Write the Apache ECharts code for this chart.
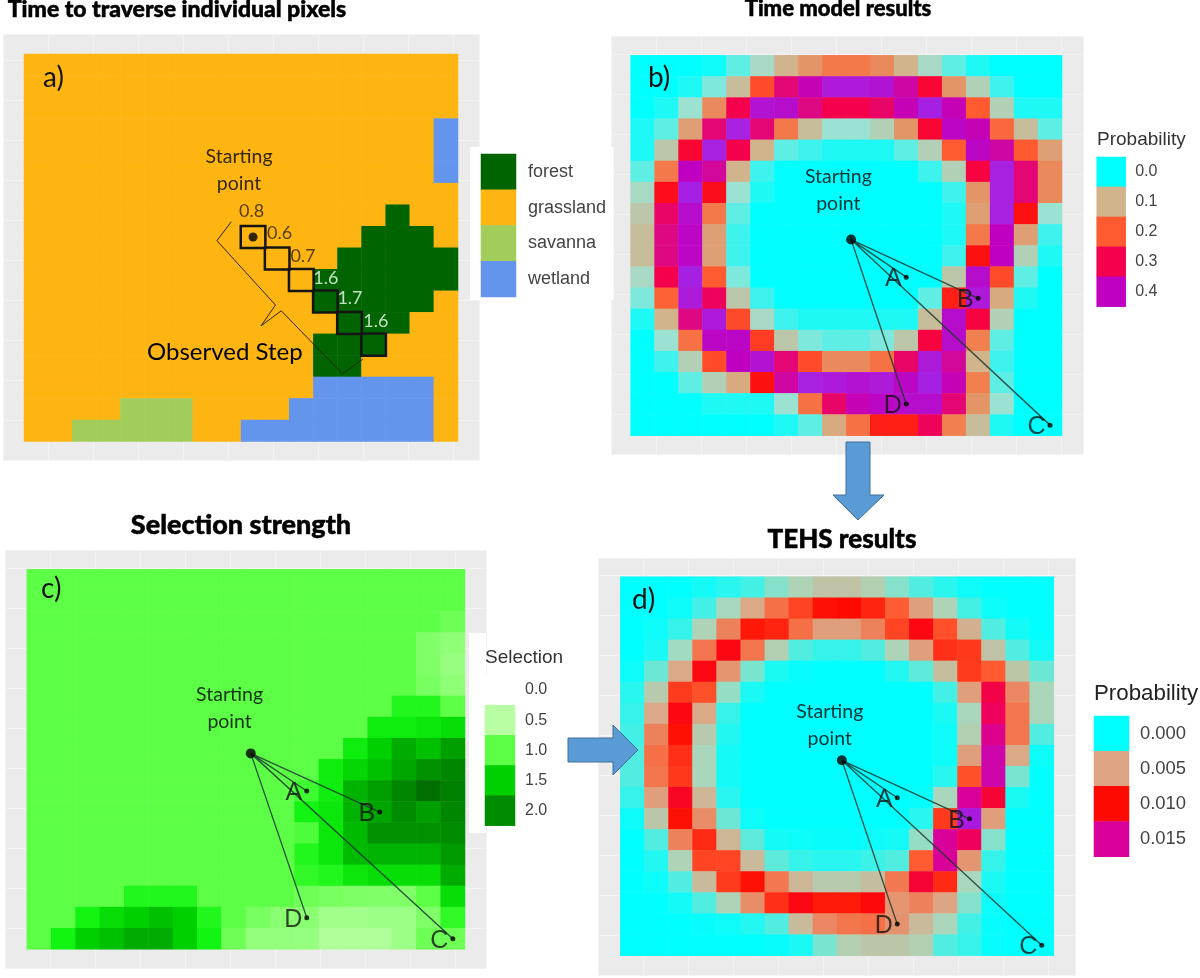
<!DOCTYPE html>
<html>
<head>
<meta charset="utf-8">
<style>html,body{margin:0;padding:0;background:#fff}#chart{width:1200px;height:978px}</style>
<script src="https://cdn.jsdelivr.net/npm/echarts@6/dist/echarts.min.js"></script>
</head>
<body>
<div id="chart"></div>
<script>
// ---------- categories / ticks ----------
const cells = ['1','2','3','4','5','6','7','8','9','10','11','12','13','14','15','16','17','18'];
const landCoverNames = ['forest','grassland','savanna','wetland'];
const probTicksB = [0.0,0.1,0.2,0.3,0.4];
const selectionTicks = [0.0,0.5,1.0,1.5,2.0];
const probTicksD = [0.000,0.005,0.010,0.015];

// ---------- a) land cover (0 forest, 1 grassland, 2 savanna, 3 wetland) ----------
const landCover = [
[1,1,1,1,1,1,1,1,1,1,1,1,1,1,1,1,1,1],
[1,1,1,1,1,1,1,1,1,1,1,1,1,1,1,1,1,1],
[1,1,1,1,1,1,1,1,1,1,1,1,1,1,1,1,1,1],
[1,1,1,1,1,1,1,1,1,1,1,1,1,1,1,1,1,3],
[1,1,1,1,1,1,1,1,1,1,1,1,1,1,1,1,1,3],
[1,1,1,1,1,1,1,1,1,1,1,1,1,1,1,1,1,3],
[1,1,1,1,1,1,1,1,1,1,1,1,1,1,1,1,1,1],
[1,1,1,1,1,1,1,1,1,1,1,1,1,1,1,0,1,1],
[1,1,1,1,1,1,1,1,1,1,1,1,1,1,0,0,0,1],
[1,1,1,1,1,1,1,1,1,1,1,1,1,0,0,0,0,0],
[1,1,1,1,1,1,1,1,1,1,1,1,0,0,0,0,0,0],
[1,1,1,1,1,1,1,1,1,1,1,1,0,0,0,0,0,1],
[1,1,1,1,1,1,1,1,1,1,1,1,1,0,0,0,1,1],
[1,1,1,1,1,1,1,1,1,1,1,1,0,0,0,1,1,1],
[1,1,1,1,1,1,1,1,1,1,1,1,0,0,1,1,1,1],
[1,1,1,1,1,1,1,1,1,1,1,1,3,3,3,3,3,1],
[1,1,1,1,2,2,2,1,1,1,1,3,3,3,3,3,3,1],
[1,1,2,2,2,2,2,1,1,3,3,3,3,3,3,3,3,1]
];
const stepCols = [9,10,11,12,13,14];
const stepRows = [8,9,10,11,12,13];
const stepTimes = ['0.8','0.6','0.7','1.6','1.7','1.6'];
const stepTimeX = [9.44,10.6,11.57,12.52,13.52,14.59];
const stepTimeY = [7.29,8.33,9.38,10.42,11.36,12.43];
const stepTimeColors = ['#2f2200','#2f2200','#2f2200','#f2fff2','#f2fff2','#f2fff2'];
const bracketA = [[8.6,7.79],[8.0,8.67],[10.43,11.66],[9.83,12.63],[10.67,11.93],[13.21,14.86],[14.05,14.18]];

// ---------- b) time model probability ----------
const timeProb = [
[0,0,0,.005,.03,.06,.1,.13,.16,.16,.14,.1,.06,.03,.01,0,0,0],
[0,0,.01,.04,.09,.21,.33,.39,.44,.44,.43,.37,.28,.13,.07,.02,0,0],
[0,.01,.05,.14,.30,.43,.42,.34,.30,.30,.32,.39,.46,.39,.2,.07,.01,.01],
[.01,.03,.12,.33,.45,.33,.16,.09,.05,.05,.07,.13,.28,.41,.39,.18,.09,.03],
[.01,.08,.28,.45,.30,.10,.03,.02,.01,.01,.01,.03,.07,.2,.41,.37,.2,.12],
[.03,.16,.40,.36,.10,.02,0,0,0,0,0,0,.02,.07,.29,.45,.33,.14],
[.06,.26,.46,.26,.05,.01,0,0,0,0,0,0,0,.02,.13,.45,.33,.14],
[.08,.32,.42,.16,.03,0,0,0,0,0,0,0,0,.01,.12,.45,.25,.05],
[.09,.34,.41,.12,.02,0,0,0,0,0,0,0,0,.01,.16,.40,.12,.02],
[.09,.34,.41,.12,.02,0,0,0,0,0,0,0,0,.02,.25,.40,.07,.01],
[.06,.30,.46,.20,.04,0,0,0,0,0,0,0,0,.08,.42,.21,.03,0],
[.04,.19,.44,.31,.08,.02,0,0,0,0,0,0,.03,.24,.44,.11,.01,0],
[.01,.10,.34,.44,.21,.06,.02,.01,.01,.01,.01,.01,.09,.42,.29,.07,0,0],
[0,.05,.17,.41,.41,.22,.08,.04,.03,.03,.04,.08,.29,.42,.15,.03,0,0],
[0,.02,.07,.21,.40,.43,.33,.21,.14,.14,.17,.32,.44,.36,.10,.02,0,0],
[0,0,.03,.07,.11,.25,.37,.45,.44,.43,.44,.41,.46,.39,.15,.03,0,0],
[0,0,0,.01,.01,.01,.05,.17,.32,.39,.41,.42,.42,.33,.13,.05,0,0],
[0,0,0,0,0,0,.01,.03,.11,.17,.24,.24,.31,.15,.09,.01,0,0]
];

// ---------- c) selection strength ----------
const selection = [
[1,1,1,1,1,1,1,1,1,1,1,1,1,1,1,1,1,1],
[1,1,1,1,1,1,1,1,1,1,1,1,1,1,1,1,1,1],
[1,1,1,1,1,1,1,1,1,1,1,1,1,1,1,1,1,.9],
[1,1,1,1,1,1,1,1,1,1,1,1,1,1,1,1,.8,.72],
[1,1,1,1,1,1,1,1,1,1,1,1,1,1,1,1,.8,.68],
[1,1,1,1,1,1,1,1,1,1,1,1,1,1,1,1,.85,.72],
[1,1,1,1,1,1,1,1,1,1,1,1,1,1,1,1.2,1.2,1.0],
[1,1,1,1,1,1,1,1,1,1,1,1,1,1,1.3,1.3,1.35,1.4],
[1,1,1,1,1,1,1,1,1,1,1,1,1,1.3,1.5,1.75,1.6,1.85],
[1,1,1,1,1,1,1,1,1,1,1,1,1.3,1.45,1.6,1.8,1.95,2.05],
[1,1,1,1,1,1,1,1,1,1,1,1.1,1.3,1.7,1.85,2.05,2.25,2.1],
[1,1,1,1,1,1,1,1,1,1,1,1.25,1.35,1.7,1.8,2.0,1.85,2.05],
[1,1,1,1,1,1,1,1,1,1,1,1.05,1.35,1.65,1.95,1.95,1.95,2.0],
[1,1,1,1,1,1,1,1,1,1,1,1.2,1.35,1.65,1.7,1.7,1.7,1.9],
[1,1,1,1,1,1,1,1,1,1,1,1.15,1.2,1.35,1.4,1.4,1.4,1.75],
[1,1,1,1,1.2,1.2,1.2,1,1,1,1,.9,.85,.82,.8,.8,1.0,1.4],
[1,1,1.25,1.4,1.5,1.6,1.5,1.2,1,.85,.75,.75,.62,.62,.65,.65,.8,1.15],
[1,1.25,1.5,1.6,1.75,1.75,1.5,1.25,.9,.7,.7,.68,.55,.55,.55,.65,.9,.9]
];

// ---------- d) TEHS probability ----------
const tehsProb = [
[0,0,0,.0003,.0006,.001,.002,.0028,.0036,.0036,.003,.002,.0012,.0006,.0002,0,0,0],
[0,0,.0002,.001,.0025,.0048,.0068,.0082,.0098,.01,.0092,.0074,.0052,.0028,.001,.0002,0,0],
[0,.0002,.0008,.0028,.0062,.0096,.0092,.0068,.0052,.0052,.0062,.0082,.0105,.0078,.0045,.0012,.0003,0],
[0,.0004,.0024,.0066,.0105,.0066,.003,.0012,.0008,.0008,.0012,.0028,.0052,.0088,.0086,.0036,.0012,.0003],
[.0002,.0016,.0048,.0105,.0055,.0018,.0004,.0001,0,0,0,.0005,.0014,.0038,.0085,.0075,.0034,.0016],
[.0006,.0032,.0085,.0078,.0022,.0004,0,0,0,0,0,0,0,.001,.0052,.012,.006,.0026],
[.0008,.0048,.0105,.0048,.0008,0,0,0,0,0,0,0,0,.0004,.0026,.0125,.0066,.0026],
[.001,.0062,.0098,.0032,.0005,0,0,0,0,0,0,0,0,.0002,.003,.0145,.0066,.0012],
[.0012,.0068,.0088,.0026,.0003,0,0,0,0,0,0,0,0,.0002,.0052,.0155,.0048,.0002],
[.0012,.0066,.0086,.0026,.0003,0,0,0,0,0,0,0,0,.0006,.0078,.0155,.0018,0],
[.0008,.0052,.011,.0042,.0006,0,0,0,0,0,0,0,.0001,.0026,.015,.0115,.0004,0],
[.0002,.0034,.0098,.0058,.0016,.0002,0,0,0,0,0,0,.0006,.0085,.017,.0052,0,0],
[0,.0012,.0062,.009,.0042,.0014,.0003,.0002,.0001,.0001,.0002,.0003,.0022,.015,.0125,.002,0,0],
[0,.0005,.0028,.0082,.0082,.004,.0014,.0008,.0006,.0006,.0009,.0012,.0075,.015,.0055,.0008,0,0],
[0,.0002,.0012,.004,.0085,.0098,.0065,.0042,.0032,.0032,.0038,.0065,.0115,.009,.0025,.0004,0,0],
[0,0,.0003,.0012,.0028,.0058,.0088,.0105,.0095,.0095,.0103,.0055,.0062,.005,.002,.0002,0,0],
[0,0,0,.0001,.0002,.0005,.0012,.004,.006,.0066,.0068,.0056,.004,.0026,.001,.0001,0,0],
[0,0,0,0,0,0,.0001,.0004,.0018,.003,.0034,.0034,.003,.0012,.0008,.0001,0,0]
];

// ---------- observed points in cell units ----------
const startPoint = [9.2,8.72];
const startPointA = [9.5,8.5];
const targetNames = ['A','B','C','D'];
const targetX = [11.5,14.5,17.5,11.5];
const targetY = [10.5,11.5,17.5,16.5];

// ---------- colour ramps ----------
const landColors = ['#006400','#FFB511','#A2CD5A','#6495ED'];
const rampB = ['#00FFFF','#9CE2D2','#D2B48C','#F08050','#FF5A30','#FF1010','#F5004D','#D80A90','#C000C0','#A820E0','#9B20F0'];
const rampC = ['#FFFFFF','#E0FFD5','#B8FFA4','#8AFF72','#5CFF45','#12F512','#00CF00','#00AC00','#008C00','#006E00'];
const rampD = ['#00FFFF','#A8D9BE','#DDA583','#FF5A30','#FF0A00','#F0005A','#D80098','#9B20F0'];

// ---------- layout ----------
const panelA = {gray:[3,34.7,476.5,426], plot:[24,54,434,387.5], tag:'a)', tagAt:[43,64], startAt:[8.92,5.39]};
const panelB = {gray:[611,36.7,472,417.3], plot:[630.6,55.3,431.4,380.4], tag:'b)', tagAt:[648,64], startAt:[8.67,6.37]};
const panelC = {gray:[5.4,550,480.6,418], plot:[26.8,569.3,438.2,380], tag:'c)', tagAt:[41,575], startAt:[8.33,6.59]};
const panelD = {gray:[598.6,558,477,417], plot:[620.3,576.7,433.5,379], tag:'d)', tagAt:[632,586], startAt:[8.7,7.04]};

const option = {
  backgroundColor:'#fff', animation:false,
  grid:[], xAxis:[], yAxis:[], series:[], visualMap:[], title:[], graphic:[]
};
const txtFont = 'Lato';
const heatCells = m => { const o=[]; m.forEach((r,y)=>r.forEach((v,x)=>o.push([x,y,v]))); return o; };

function addAxis(list, o){ list.push(o); return list.length-1; }

function addPanel(p, matrix, mapSeries){
  // backdrop: gray panel + white major lines
  const gi0 = option.grid.length;
  option.grid.push({left:p.gray[0],top:p.gray[1],width:p.gray[2],height:p.gray[3],show:true,backgroundColor:'#EBEBEB',borderWidth:0,z:0});
  const lineStyle={color:'#F3F3F3',width:1};
  addAxis(option.xAxis,{type:'value',gridIndex:gi0,min:0,max:p.gray[2]/45,interval:1,axisLine:{show:false},axisTick:{show:false},axisLabel:{show:false},splitLine:{show:true,lineStyle}});
  addAxis(option.yAxis,{type:'value',gridIndex:gi0,min:0,max:p.gray[3]/40,interval:1,axisLine:{show:false},axisTick:{show:false},axisLabel:{show:false},splitLine:{show:true,lineStyle}});
  // plot: heat cells on category axes, overlay on value axes in cell units
  const gi = option.grid.length;
  option.grid.push({left:p.plot[0],top:p.plot[1],width:p.plot[2],height:p.plot[3],z:2});
  const hide={show:false};
  const xc=addAxis(option.xAxis,{type:'category',gridIndex:gi,data:cells,show:false,splitArea:hide});
  const yc=addAxis(option.yAxis,{type:'category',gridIndex:gi,data:cells,inverse:true,show:false,splitArea:hide});
  const xv=addAxis(option.xAxis,{type:'value',gridIndex:gi,min:0,max:18,show:false,splitLine:hide,position:'top'});
  const yv=addAxis(option.yAxis,{type:'value',gridIndex:gi,min:0,max:18,inverse:true,show:false,splitLine:hide,position:'right'});
  mapSeries.push(option.series.length);
  option.series.push({type:'heatmap',xAxisIndex:xc,yAxisIndex:yc,data:heatCells(matrix),z:2,progressive:0,emphasis:{disabled:true}});
  // panel tag
  option.title.push({text:p.tag,left:p.tagAt[0],top:p.tagAt[1],textStyle:{fontFamily:txtFont,fontSize:28,fontWeight:'normal',color:'#141414'},padding:0,z:9});
  // starting point caption
  option.series.push({type:'scatter',xAxisIndex:xv,yAxisIndex:yv,symbolSize:0,z:6,silent:true,clip:false,
    data:[p.startAt],label:{show:true,position:'inside',formatter:'Starting\npoint',fontFamily:txtFont,fontSize:19.5,lineHeight:27,color:'#000',align:'center',verticalAlign:'middle'}});
  return {xv,yv,xc,yc};
}

function addTracks(ax){
  const path=[]; targetX.forEach((x,i)=>{path.push(startPoint);path.push([x,targetY[i]]);});
  option.series.push({type:'line',xAxisIndex:ax.xv,yAxisIndex:ax.yv,data:path,showSymbol:false,symbol:'none',z:5,silent:true,lineStyle:{color:'#1d3b33',width:1.4,opacity:.85}});
  option.series.push({type:'scatter',xAxisIndex:ax.xv,yAxisIndex:ax.yv,symbolSize:5,z:6,silent:true,itemStyle:{color:'#000'},
    data:targetX.map((x,i)=>({value:[x,targetY[i]],name:targetNames[i]})),
    label:{show:true,position:'left',distance:2,offset:[0,2],formatter:'{b}',fontFamily:'Liberation Sans',fontSize:25,color:'#141414'}});
  option.series.push({type:'scatter',xAxisIndex:ax.xv,yAxisIndex:ax.yv,symbolSize:10,z:7,silent:true,itemStyle:{color:'#000'},data:[startPoint]});
}

function addLegend(rect, labels, values, mapSeries, fontSize){
  const gi=option.grid.length;
  option.grid.push({left:rect[0],top:rect[1],width:rect[2],height:rect[3],z:3});
  const x=addAxis(option.xAxis,{type:'category',gridIndex:gi,data:[''],show:false});
  const y=addAxis(option.yAxis,{type:'category',gridIndex:gi,data:labels,inverse:true,position:'right',
    axisLine:{show:false},axisTick:{show:false},splitLine:{show:false},
    axisLabel:{show:true,margin:rect[4],fontFamily:'Liberation Sans',fontSize,color:'#444'}});
  mapSeries.push(option.series.length);
  option.series.push({type:'heatmap',xAxisIndex:x,yAxisIndex:y,data:values.map((v,i)=>[0,i,v]),z:3,progressive:0,emphasis:{disabled:true}});
}

// white boxes behind legends
[[470,147,10,153],[469,633,17,200],[610.7,147,3,153]].forEach(r=>{
  option.graphic.push({type:'rect',shape:{x:r[0],y:r[1],width:r[2],height:r[3]},style:{fill:'#fff'},z:1,silent:true});
});

// ---------- panel a ----------
{
  const ms=[]; const ax=addPanel(panelA,landCover,ms);
  option.series.push({type:'heatmap',xAxisIndex:ax.xc,yAxisIndex:ax.yc,z:4,progressive:0,emphasis:{disabled:true},
    data:stepCols.map((c,i)=>[c,stepRows[i],1]),
    itemStyle:{color:'rgba(0,0,0,0)',borderColor:'#141414',borderWidth:2.5}});
  option.series.push({type:'line',xAxisIndex:ax.xv,yAxisIndex:ax.yv,data:bracketA,showSymbol:false,symbol:'none',z:5,silent:true,lineStyle:{color:'#2b2200',width:1}});
  option.series.push({type:'scatter',xAxisIndex:ax.xv,yAxisIndex:ax.yv,symbolSize:9,z:6,silent:true,itemStyle:{color:'#000'},data:[startPointA]});
  option.series.push({type:'scatter',xAxisIndex:ax.xv,yAxisIndex:ax.yv,symbolSize:0,z:6,silent:true,
    data:stepTimes.map((t,i)=>({value:[stepTimeX[i],stepTimeY[i]],name:t,label:{color:stepTimeColors[i]}})),
    label:{show:true,position:'inside',formatter:'{b}',fontFamily:txtFont,fontSize:18}});
  addLegend([481,154,35,143,12],landCoverNames,[0,1,2,3],ms,18);
  option.visualMap.push({type:'piecewise',show:false,seriesIndex:ms,dimension:2,
    pieces:landColors.map((c,i)=>({value:i,color:c}))});
  option.title.push({text:'Observed Step',left:147,top:340,textStyle:{fontFamily:txtFont,fontSize:24,fontWeight:'normal',color:'#000'},padding:0});
}
// ---------- panel b ----------
{
  const ms=[]; const ax=addPanel(panelB,timeProb,ms); addTracks(ax);
  addLegend([1096.7,157,29,149.7,9.5],probTicksB.map(v=>v.toFixed(1)),probTicksB,ms,16);
  option.visualMap.push({type:'continuous',show:false,seriesIndex:ms,dimension:2,min:0,max:.5,inRange:{color:rampB}});
  option.title.push({text:'Probability',left:1097,top:130,textStyle:{fontFamily:'Liberation Sans',fontSize:19,fontWeight:'normal',color:'#333'},padding:0});
}
// ---------- panel c ----------
{
  const ms=[]; const ax=addPanel(panelC,selection,ms); addTracks(ax);
  addLegend([485,675,30,150.7,10],selectionTicks.map(v=>v.toFixed(1)),selectionTicks,ms,16);
  option.visualMap.push({type:'continuous',show:false,seriesIndex:ms,dimension:2,min:0,max:2.25,inRange:{color:rampC}});
  option.title.push({text:'Selection',left:485,top:648,textStyle:{fontFamily:'Liberation Sans',fontSize:19,fontWeight:'normal',color:'#333'},padding:0});
}
// ---------- panel d ----------
{
  const ms=[]; const ax=addPanel(panelD,tehsProb,ms); addTracks(ax);
  addLegend([1094,716,35,140.7,11],probTicksD.map(v=>v.toFixed(3)),probTicksD,ms,18.4);
  option.visualMap.push({type:'continuous',show:false,seriesIndex:ms,dimension:2,min:0,max:.0175,inRange:{color:rampD}});
  option.title.push({text:'Probability',left:1094,top:683,textStyle:{fontFamily:'Liberation Sans',fontSize:22.3,fontWeight:'normal',color:'#222'},padding:0});
}

// headers
const headers = [['Time to traverse individual pixels',177,-2,23],['Time model results',838,-2,22],['Selection strength',241,512,27],['TEHS results',842,527,26]];
headers.forEach(h=>option.title.push({text:h[0],left:h[1],top:h[2],textAlign:'center',padding:0,
  textStyle:{fontFamily:txtFont,fontSize:h[3],fontWeight:'900',color:'#000',textBorderColor:'#000',textBorderWidth:.5}}));

// flow arrows
option.graphic.push({type:'polygon',z:20,silent:true,shape:{points:[[846,442],[870,442],[870,495],[884,495],[858,520],[833,495],[846,495]]},style:{fill:'#5B9BD5',stroke:'#41719C',lineWidth:1}});
option.graphic.push({type:'polygon',z:20,silent:true,shape:{points:[[568,738],[613,738],[613,725],[638,750],[613,775],[613,762],[568,762]]},style:{fill:'#5B9BD5',stroke:'#41719C',lineWidth:1}});

const chart = echarts.init(document.getElementById('chart'),null,{renderer:'canvas'});
chart.setOption(option);
</script>
</body>
</html>
